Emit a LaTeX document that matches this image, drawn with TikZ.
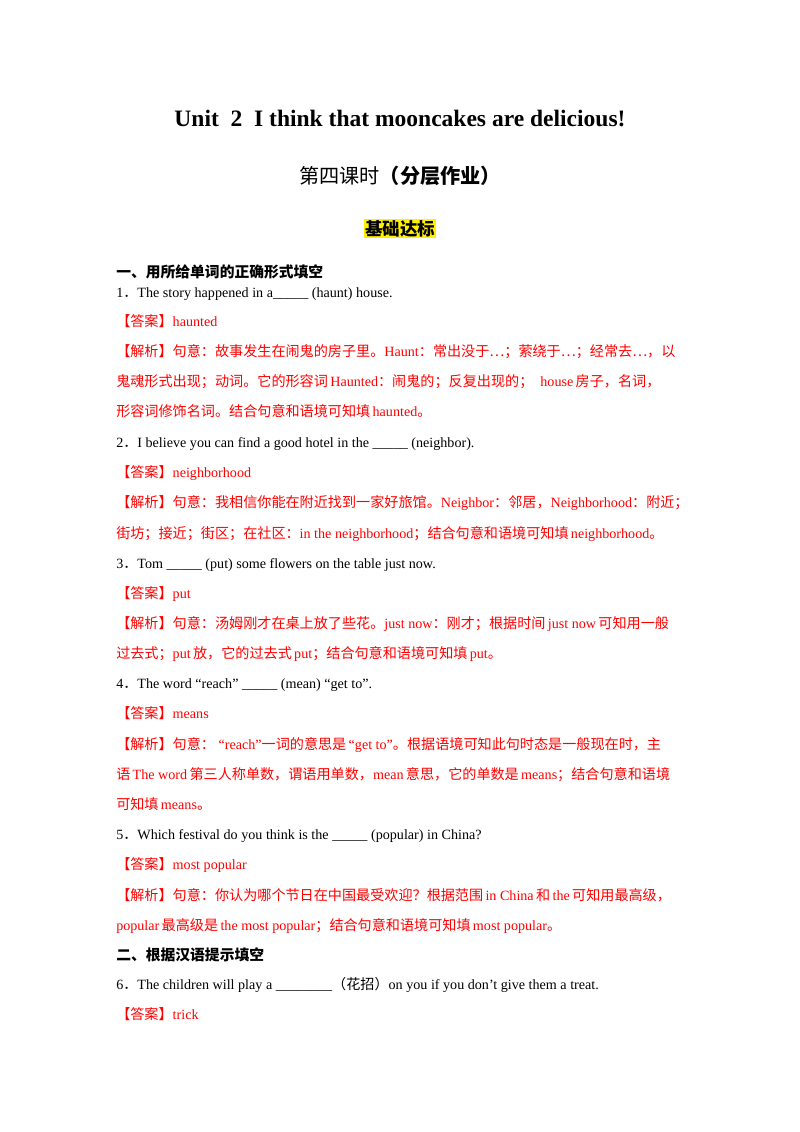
\documentclass[tikz,border=0pt]{standalone}
\usepackage{fontspec}
\setmainfont{Liberation Serif}
\newfontfamily\cjk{Noto Sans CJK SC}
\newcommand{\zh}[1]{{\cjk #1}}
\definecolor{ansred}{RGB}{255,0,0}
\tikzstyle{line} = [anchor=base west,inner sep=0pt,font=\fontsize{10.5}{12}\selectfont]
\tikzstyle{ans} = [line,text=ansred]
\tikzstyle{head} = [line,font=\fontsize{11}{12}\selectfont\bfseries\cjk]

\begin{document}
\begin{tikzpicture}[x=0.744pt,y=-0.744pt]

	\useasboundingbox (0,0) rectangle (800,1132);

	% title block
	\node (title) [anchor=base,inner sep=0pt,font=\fontsize{17.5}{20}\selectfont\bfseries] at (400,126) {Unit\ \ 2\ \ I think that mooncakes are delicious!};
	\node (sub) [anchor=base,inner sep=0pt,font=\fontsize{15}{18}\selectfont\cjk] at (400,183) {第四课时\textbf{（分层作业）}};
	\node (level) [anchor=base,inner sep=1pt,fill=yellow,font=\fontsize{13}{15}\selectfont\bfseries\cjk] at (400,235) {基础达标};

	% part one
	\node (h1) [head] at (116,277) {一、用所给单词的正确形式填空};
	\node (q1) [line] at (116,297) {1\zh{．}The story happened in a\_\_\_\_\_ (haunt) house.};
	\node (a1) [ans] at (116,326) {\zh{【答案】}haunted};
	\node (j1a) [ans] at (116,356) {\zh{【解析】句意：故事发生在闹鬼的房子里。}Haunt\zh{：常出没于…；萦绕于…；经常去…，以}};
	\node (j1b) [ans] at (116,386) {\zh{鬼魂形式出现；动词。它的形容词}\,Haunted\zh{：闹鬼的；反复出现的；}\ \ house\,\zh{房子，名词，}};
	\node (j1c) [ans] at (116,416) {\zh{形容词修饰名词。结合句意和语境可知填}\,haunted\zh{。}};

	\node (q2) [line] at (116,447) {2\zh{．}I believe you can find a good hotel in the \_\_\_\_\_ (neighbor).};
	\node (a2) [ans] at (116,477) {\zh{【答案】}neighborhood};
	\node (j2a) [ans] at (116,507) {\zh{【解析】句意：我相信你能在附近找到一家好旅馆。}Neighbor\zh{：邻居，}Neighborhood\zh{：附近；}};
	\node (j2b) [ans] at (116,538) {\zh{街坊；接近；街区；在社区：}in the neighborhood\zh{；结合句意和语境可知填}\,neighborhood\zh{。}};

	\node (q3) [line] at (116,568) {3\zh{．}Tom \_\_\_\_\_ (put) some flowers on the table just now.};
	\node (a3) [ans] at (116,598) {\zh{【答案】}put};
	\node (j3a) [ans] at (116,628) {\zh{【解析】句意：汤姆刚才在桌上放了些花。}just now\zh{：刚才；根据时间}\,just now\,\zh{可知用一般}};
	\node (j3b) [ans] at (116,658) {\zh{过去式；}put\,\zh{放，它的过去式}\,put\zh{；结合句意和语境可知填}\,put\zh{。}};

	\node (q4) [line] at (116,688) {4\zh{．}The word “reach” \_\_\_\_\_ (mean) “get to”.};
	\node (a4) [ans] at (116,718) {\zh{【答案】}means};
	\node (j4a) [ans] at (116,749) {\zh{【解析】句意：}\ “reach”\zh{一词的意思是}\,“get to”\zh{。根据语境可知此句时态是一般现在时，主}};
	\node (j4b) [ans] at (116,779) {\zh{语}\,The word\,\zh{第三人称单数，谓语用单数，}mean\,\zh{意思，它的单数是}\,means\zh{；结合句意和语境}};
	\node (j4c) [ans] at (116,809) {\zh{可知填}\,means\zh{。}};

	\node (q5) [line] at (116,839) {5\zh{．}Which festival do you think is the \_\_\_\_\_ (popular) in China?};
	\node (a5) [ans] at (116,869) {\zh{【答案】}most popular};
	\node (j5a) [ans] at (116,900) {\zh{【解析】句意：你认为哪个节日在中国最受欢迎？根据范围}\,in China\,\zh{和}\,the\,\zh{可知用最高级，}};
	\node (j5b) [ans] at (116,930) {popular\,\zh{最高级是}\,the most popular\zh{；结合句意和语境可知填}\,most popular\zh{。}};

	% part two
	\node (h2) [head] at (116,960) {二、根据汉语提示填空};
	\node (q6) [line] at (116,989) {6\zh{．}The children will play a \_\_\_\_\_\_\_\_\zh{（花招）}on you if you don’t give them a treat.};
	\node (a6) [ans] at (116,1019) {\zh{【答案】}trick};

\end{tikzpicture}
\end{document}
